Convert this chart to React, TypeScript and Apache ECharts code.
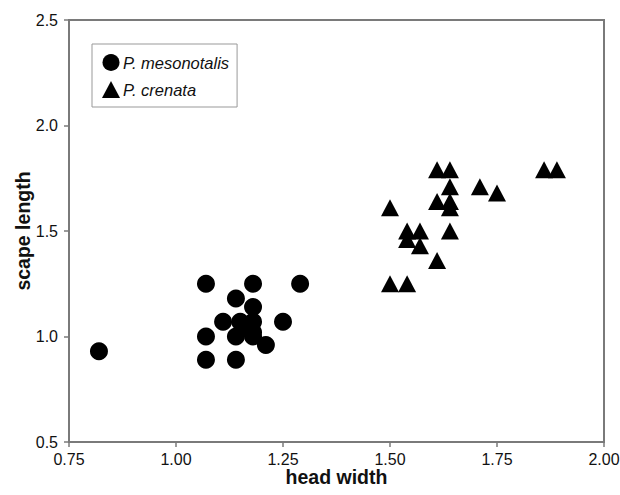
import React, { useEffect, useRef } from "react";
import * as echarts from "echarts";

const seriesNames = ["P. mesonotalis", "P. crenata"];

const mesonotalisX = [0.82, 1.07, 1.18, 1.29, 1.14, 1.18, 1.11, 1.15, 1.18, 1.25, 1.07, 1.14, 1.18, 1.21, 1.07, 1.14, 1.16, 1.18];
const mesonotalisY = [0.93, 1.25, 1.25, 1.25, 1.18, 1.14, 1.07, 1.07, 1.07, 1.07, 1.0, 1.0, 1.0, 0.96, 0.89, 0.89, 1.04, 1.02];

const crenataX = [1.61, 1.64, 1.86, 1.89, 1.64, 1.71, 1.75, 1.61, 1.64, 1.64, 1.5, 1.54, 1.57, 1.54, 1.64, 1.57, 1.61, 1.5, 1.54];
const crenataY = [1.79, 1.79, 1.79, 1.79, 1.71, 1.71, 1.68, 1.64, 1.64, 1.61, 1.61, 1.5, 1.5, 1.46, 1.5, 1.43, 1.36, 1.25, 1.25];

const xTicks = { min: 0.75, max: 2.0, interval: 0.25 };
const yTicks = { min: 0.5, max: 2.5, interval: 0.5 };

export default function App() {
  const ref = useRef<HTMLDivElement>(null);
  useEffect(() => {
    if (!ref.current) return;
    document.body.style.margin = "0";
    const chart = echarts.init(ref.current, null, { renderer: "svg" });
    const font = "Liberation Sans, Arial, sans-serif";
    const axisLine = { lineStyle: { color: "#7a7a7a", width: 2 } };
    chart.setOption({
      animation: false,
      backgroundColor: "#ffffff",
      grid: {
        left: 69,
        right: 16,
        top: 20,
        bottom: 53,
        outerBoundsMode: "none",
        containLabel: false,
        show: true,
        borderColor: "#7a7a7a",
        borderWidth: 2,
        backgroundColor: "transparent",
      },
      legend: {
        orient: "vertical",
        left: 92,
        top: 44,
        padding: [10, 8, 9, 10],
        itemGap: 10,
        itemWidth: 18,
        itemHeight: 17,
        borderColor: "#999",
        borderWidth: 1,
        data: seriesNames,
        textStyle: { fontFamily: font, fontStyle: "italic", fontSize: 16.5, color: "#111", padding: [0, 0, 0, -2] },
      },
      xAxis: {
        type: "value",
        min: xTicks.min,
        max: xTicks.max,
        interval: xTicks.interval,
        name: "head width",
        nameLocation: "middle",
        nameGap: 25,
        nameMoveOverlap: false,
        nameTextStyle: { fontFamily: font, fontWeight: "bold", fontSize: 19.5, color: "#111" },
        axisLine: { show: true, ...axisLine },
        axisTick: { show: true, length: 5, lineStyle: { color: "#7a7a7a", width: 1.5 } },
        axisLabel: {
          fontFamily: font,
          fontSize: 16,
          color: "#111",
          margin: 9,
          formatter: (v: number) => v.toFixed(2),
        },
        splitLine: { show: false },
      },
      yAxis: {
        type: "value",
        min: yTicks.min,
        max: yTicks.max,
        interval: yTicks.interval,
        name: "scape length",
        nameLocation: "middle",
        nameGap: 36,
        nameMoveOverlap: false,
        nameTextStyle: { fontFamily: font, fontWeight: "bold", fontSize: 19.5, color: "#111" },
        axisLine: { show: true, ...axisLine },
        axisTick: { show: true, length: 5, lineStyle: { color: "#7a7a7a", width: 1.5 } },
        axisLabel: {
          fontFamily: font,
          fontSize: 16,
          color: "#111",
          margin: 11,
          formatter: (v: number) => v.toFixed(1),
        },
        splitLine: { show: false },
      },
      series: [
        {
          name: seriesNames[0],
          type: "scatter",
          symbol: "circle",
          symbolSize: 18,
          itemStyle: { color: "#000", opacity: 1 },
          data: mesonotalisX.map((x, i) => [x, mesonotalisY[i]]),
        },
        {
          name: seriesNames[1],
          type: "scatter",
          symbol: "triangle",
          symbolSize: [18, 17],
          itemStyle: { color: "#000", opacity: 1 },
          data: crenataX.map((x, i) => [x, crenataY[i]]),
        },
      ],
    });
    return () => chart.dispose();
  }, []);
  return <div ref={ref} style={{ width: 620, height: 495 }} />;
}
